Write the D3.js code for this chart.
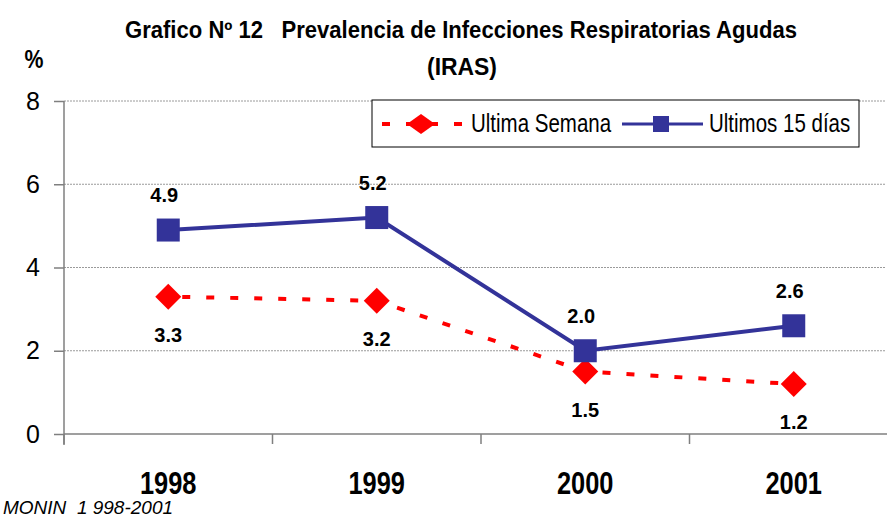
<!DOCTYPE html>
<html>
<head>
<meta charset="utf-8">
<script src="https://cdn.jsdelivr.net/npm/d3@7"></script>
<style>
  body { margin: 0; background: #fff; }
  svg { display: block; }
</style>
</head>
<body>
<div id="chart"></div>
<script>
(function() {
  'use strict';

  var years = ['1998', '1999', '2000', '2001'];
  var ultimaSemana = [3.3, 3.2, 1.5, 1.2];
  var ultimos15 = [4.9, 5.2, 2.0, 2.6];
  var yTicks = [0, 2, 4, 6, 8];
  var seriesNames = ['Ultima Semana', 'Ultimos 15 días'];

  //Width and height
  var w = 887;
  var h = 517;
  var left = 64;
  var top = 101;
  var bottom = 434;
  var right = 898; // plot area runs past the window edge

  var sans = '"Liberation Sans", Arial, sans-serif';
  var squeeze = 0.82; // no Arial Narrow here, so squash Liberation Sans
  var red = '#ff0000';
  var navy = '#333399';

  var svg = d3.select('#chart').append('svg').attr('width', w).attr('height', h);

  var x = d3.scaleBand().domain(years).range([left, right]);
  var y = d3.scaleLinear().domain([0, 8]).range([bottom, top]);

  var cx = function(d, i) {
    return x(years[i]) + x.bandwidth() / 2;
  };

  // narrow text placed at (px, py)
  var narrowText = function(parent, px, py, size, sx) {
    return parent.append('text')
      .attr('transform', 'translate(' + px + ',' + py + ') scale(' + (sx || squeeze) + ',1)')
      .attr('font-family', sans)
      .attr('font-size', size);
  };

  // title
  svg.append('text')
    .attr('x', 461).attr('y', 38)
    .attr('text-anchor', 'middle')
    .attr('font-family', sans).attr('font-weight', 'bold').attr('font-size', 23)
    .attr('xml:space', 'preserve')
    .attr('textLength', 672).attr('lengthAdjust', 'spacingAndGlyphs')
    .text('Grafico Nº 12   Prevalencia de Infecciones Respiratorias Agudas');
  svg.append('text')
    .attr('x', 462).attr('y', 75)
    .attr('text-anchor', 'middle')
    .attr('font-family', sans).attr('font-weight', 'bold').attr('font-size', 23)
    .attr('textLength', 70).attr('lengthAdjust', 'spacingAndGlyphs')
    .text('(IRAS)');
  narrowText(svg, 34, 68, 26)
    .attr('text-anchor', 'middle').attr('font-weight', 'bold')
    .text('%');

  // gridlines
  svg.append('g').selectAll('line')
    .data(yTicks.filter(function(d) { return d > 0; }))
    .enter()
    .append('line')
    .attr('x1', left).attr('x2', w - 1)
    .attr('y1', function(d) { return y(d); })
    .attr('y2', function(d) { return y(d); })
    .attr('stroke', '#9a9a9a')
    .attr('stroke-dasharray', '2,1');

  // y axis
  var yAxis = svg.append('g')
    .attr('transform', 'translate(' + left + ',0)')
    .call(d3.axisLeft(y).tickValues(yTicks).tickSize(10).tickPadding(20).tickFormat(d3.format('d')));
  yAxis.select('.domain').attr('stroke', '#7f7f7f').attr('stroke-width', 1.5)
    .attr('d', 'M0,' + top + 'V' + (bottom + 11));
  yAxis.selectAll('.tick line').attr('stroke', '#7f7f7f').attr('stroke-width', 1.5);
  yAxis.selectAll('.tick text')
    .attr('font-family', sans).attr('font-size', 25).attr('fill', '#000')
    .attr('text-anchor', 'middle').attr('x', -31);

  // x axis
  var xAxis = svg.append('g')
    .attr('transform', 'translate(0,' + bottom + ')')
    .call(d3.axisBottom(x).tickSize(0).tickPadding(0));
  xAxis.select('.domain').attr('stroke', '#7f7f7f').attr('stroke-width', 1.5)
    .attr('d', 'M' + left + ',0H' + w);
  xAxis.selectAll('.tick text')
    .attr('y', 60).attr('dy', null)
    .attr('transform', 'scale(' + squeeze + ',1)')
    .attr('font-family', sans).attr('font-weight', 'bold').attr('font-size', 31).attr('fill', '#000');
  xAxis.append('g').selectAll('line')
    .data(years)
    .enter()
    .append('line')
    .attr('x1', function(d) { return x(d); })
    .attr('x2', function(d) { return x(d); })
    .attr('y1', 0).attr('y2', 10)
    .attr('stroke', '#7f7f7f').attr('stroke-width', 1.5);

  // source note
  narrowText(svg, 3, 514, 19, 1)
    .attr('font-style', 'italic')
    .attr('xml:space', 'preserve')
    .text('MONIN  1 998-2001');

  var line = d3.line()
    .x(cx)
    .y(function(d) { return y(d); });

  // ultima semana (dashed red, diamonds)
  svg.append('path')
    .datum(ultimaSemana)
    .attr('d', line)
    .attr('fill', 'none')
    .attr('stroke', red)
    .attr('stroke-width', 4)
    .attr('stroke-dasharray', '8,16')
    .attr('stroke-dashoffset', -14);

  // ultimos 15 dias (solid navy, squares)
  svg.append('path')
    .datum(ultimos15)
    .attr('d', line)
    .attr('fill', 'none')
    .attr('stroke', navy)
    .attr('stroke-width', 4);

  var diamond = function(r) {
    return 'M0,' + (-r) + 'L' + r + ',0L0,' + r + 'L' + (-r) + ',0Z';
  };

  svg.append('g').selectAll('path')
    .data(ultimaSemana)
    .enter()
    .append('path')
    .attr('transform', function(d, i) { return 'translate(' + cx(d, i) + ',' + y(d) + ')'; })
    .attr('d', diamond(13))
    .attr('fill', red);

  svg.append('g').selectAll('rect')
    .data(ultimos15)
    .enter()
    .append('rect')
    .attr('x', function(d, i) { return cx(d, i) - 11.5; })
    .attr('y', function(d) { return y(d) - 11.5; })
    .attr('width', 23).attr('height', 23)
    .attr('fill', navy);

  // value labels
  svg.append('g').selectAll('text')
    .data(ultimaSemana)
    .enter()
    .append('text')
    .attr('x', cx)
    .attr('y', function(d) { return y(d) + 45; })
    .attr('text-anchor', 'middle')
    .attr('font-family', sans).attr('font-weight', 'bold').attr('font-size', 20)
    .text(d3.format('.1f'));

  svg.append('g').selectAll('text')
    .data(ultimos15)
    .enter()
    .append('text')
    .attr('x', function(d, i) { return cx(d, i) - 4; })
    .attr('y', function(d) { return y(d) - 28; })
    .attr('text-anchor', 'middle')
    .attr('font-family', sans).attr('font-weight', 'bold').attr('font-size', 20)
    .text(d3.format('.1f'));

  // legend
  var legend = svg.append('g');
  legend.append('rect')
    .attr('x', 372).attr('y', 100).attr('width', 487).attr('height', 47)
    .attr('fill', '#fff').attr('stroke', '#000').attr('stroke-width', 1);

  legend.append('line')
    .attr('x1', 382).attr('x2', 462).attr('y1', 124).attr('y2', 124)
    .attr('stroke', red).attr('stroke-width', 4)
    .attr('stroke-dasharray', '8,16');
  legend.append('path')
    .attr('transform', 'translate(421,124)')
    .attr('d', 'M0,-10L14,0L0,10L-14,0Z')
    .attr('fill', red);
  narrowText(legend, 471, 132, 25)
    .text(seriesNames[0]);

  legend.append('line')
    .attr('x1', 622).attr('x2', 703).attr('y1', 124).attr('y2', 124)
    .attr('stroke', navy).attr('stroke-width', 3);
  legend.append('rect')
    .attr('x', 653).attr('y', 116).attr('width', 16).attr('height', 16)
    .attr('fill', navy);
  narrowText(legend, 709, 132, 25)
    .text(seriesNames[1]);
})();
</script>
</body>
</html>
